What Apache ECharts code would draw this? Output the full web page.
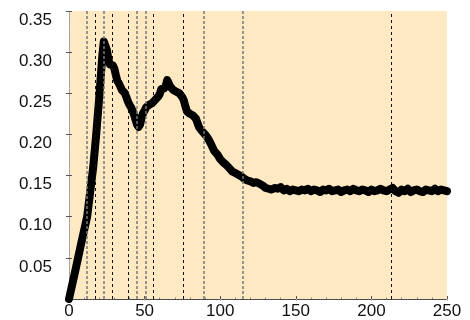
<!DOCTYPE html>
<html>
<head>
<meta charset="utf-8">
<script src="https://cdn.jsdelivr.net/npm/echarts@6/dist/echarts.min.js"></script>
<style>
  html, body { margin: 0; padding: 0; background: #fff; }
  #chart { width: 470px; height: 320px; }
</style>
</head>
<body>
<div id="chart"></div>
<script>
// x positions of the trace samples
const xs = [0, 4, 8, 12, 14, 16, 18, 20, 21, 22, 23, 24, 25, 26, 27, 28, 29, 30,
  31, 32, 33, 34, 35, 36, 37, 38, 39, 40, 41, 42, 43, 44, 45, 46, 47, 48, 49, 50,
  51, 52, 53, 54, 55, 56, 57, 58, 59, 60, 61, 62, 63, 64, 65, 66, 67, 68, 69, 70,
  71, 72, 73, 74, 75, 76, 77, 78, 80, 82, 84, 86, 88, 90, 92, 94, 96, 98, 100,
  102, 104, 106, 108, 110, 112, 114, 116, 118, 120, 122, 124, 126, 128, 130,
  132, 134, 136, 138, 140, 142, 144, 146, 148, 150, 152, 154, 156, 158, 160,
  162, 164, 166, 168, 170, 172, 174, 176, 178, 180, 182, 184, 186, 188, 190,
  192, 194, 196, 198, 200, 202, 204, 206, 208, 210, 212, 214, 216, 218, 220,
  222, 224, 226, 228, 230, 232, 234, 236, 238, 240, 242, 244, 246, 248, 250];
// y values
const ys = [0, 0.033, 0.067, 0.100, 0.130, 0.160, 0.200, 0.245, 0.270, 0.295, 0.313, 0.312, 0.303, 0.292, 0.285, 0.283, 0.284, 0.280,
  0.272, 0.265, 0.262, 0.258, 0.254, 0.253, 0.250, 0.245, 0.240, 0.236, 0.233, 0.229, 0.224, 0.218, 0.212, 0.209, 0.212, 0.220, 0.226, 0.229,
  0.233, 0.235, 0.236, 0.237, 0.238, 0.240, 0.242, 0.243, 0.246, 0.249, 0.255, 0.256, 0.256, 0.259, 0.266, 0.262, 0.258, 0.256, 0.254, 0.254,
  0.252, 0.251, 0.250, 0.248, 0.245, 0.241, 0.234, 0.228, 0.225, 0.223, 0.219, 0.209, 0.204, 0.200, 0.195, 0.188, 0.180, 0.176, 0.170,
  0.166, 0.163, 0.159, 0.155, 0.153, 0.151, 0.149, 0.146, 0.144, 0.143, 0.141, 0.142, 0.140, 0.138, 0.135,
  0.134, 0.133, 0.135, 0.134, 0.136, 0.132, 0.134, 0.131, 0.133, 0.132, 0.131, 0.133, 0.132, 0.134, 0.131,
  0.133, 0.132, 0.130, 0.133, 0.132, 0.134, 0.131, 0.132, 0.133, 0.130, 0.132, 0.133, 0.131, 0.134, 0.132,
  0.131, 0.133, 0.132, 0.130, 0.133, 0.131, 0.132, 0.134, 0.132, 0.131, 0.133, 0.135, 0.131, 0.129, 0.133,
  0.131, 0.134, 0.130, 0.132, 0.133, 0.131, 0.130, 0.133, 0.132, 0.131, 0.134, 0.131, 0.133, 0.132, 0.131];
// vertical dashed marker positions
const markBlack = [17.5, 28.5, 39, 56, 75.5, 213];
const markGray = [11.5, 23, 45, 50.5, 89, 115];
const xTicks = { min: 0, max: 250, interval: 50 };
const yTicks = { min: 0, max: 0.35, interval: 0.05 };

const points = xs.map((x, i) => [x, ys[i]]);
const font = 'Liberation Sans, Arial, sans-serif';

const frameLine = { show: true, lineStyle: { color: '#444', width: 1, type: [2, 1] } };

const chart = echarts.init(document.getElementById('chart'));
chart.setOption({
  animation: false,
  grid: {
    left: 69, right: 23, top: 11, bottom: 21,
    show: true, backgroundColor: '#fee9c3', borderWidth: 0
  },
  xAxis: [{
    type: 'value', min: xTicks.min, max: xTicks.max, interval: xTicks.interval,
    axisLine: frameLine,
    axisTick: { show: true, inside: true, length: 3, lineStyle: { color: '#555' } },
    minorTick: { show: true, splitNumber: 5, length: 1.5, lineStyle: { color: '#888' } },
    splitLine: { show: false },
    axisLabel: { color: '#111', fontSize: 17, fontFamily: font, margin: 4 }
  }, {
    type: 'value', position: 'top', min: xTicks.min, max: xTicks.max, interval: xTicks.interval,
    axisLine: frameLine,
    axisTick: { show: true, inside: true, length: 2, lineStyle: { color: '#bbb' } },
    splitLine: { show: false }, axisLabel: { show: false }
  }],
  yAxis: [{
    type: 'value', min: yTicks.min, max: yTicks.max, interval: yTicks.interval,
    axisLine: frameLine,
    axisTick: { show: true, inside: true, length: 3, lineStyle: { color: '#555' } },
    splitLine: { show: false },
    axisLabel: {
      color: '#111', fontSize: 17, fontFamily: font, margin: 17,
      verticalAlign: 'top', lineHeight: 18,
      formatter: v => v === 0 ? '' : v.toFixed(2)
    }
  }, {
    type: 'value', position: 'right', min: yTicks.min, max: yTicks.max, interval: yTicks.interval,
    axisLine: { show: true, lineStyle: { color: '#aaa', width: 1, type: [2, 1] } },
    axisTick: { show: true, inside: true, length: 3, lineStyle: { color: '#555' } },
    splitLine: { show: false }, axisLabel: { show: false }
  }],
  series: [{
    type: 'line', data: [], silent: true, z: 1,
    markLine: {
      silent: true, symbol: 'none', label: { show: false }, animation: false,
      data: markBlack.map(v => ({ xAxis: v, lineStyle: { color: '#111', width: 1, type: [3, 3] } }))
        .concat(markGray.map(v => ({ xAxis: v, lineStyle: { color: '#777', width: 1.5, type: [3, 2] } })))
    }
  }, {
    type: 'line', data: points, z: 3,
    symbol: 'none',
    lineStyle: { color: '#000', width: 8, cap: 'round', join: 'round' }
  }]
});
</script>
</body>
</html>
